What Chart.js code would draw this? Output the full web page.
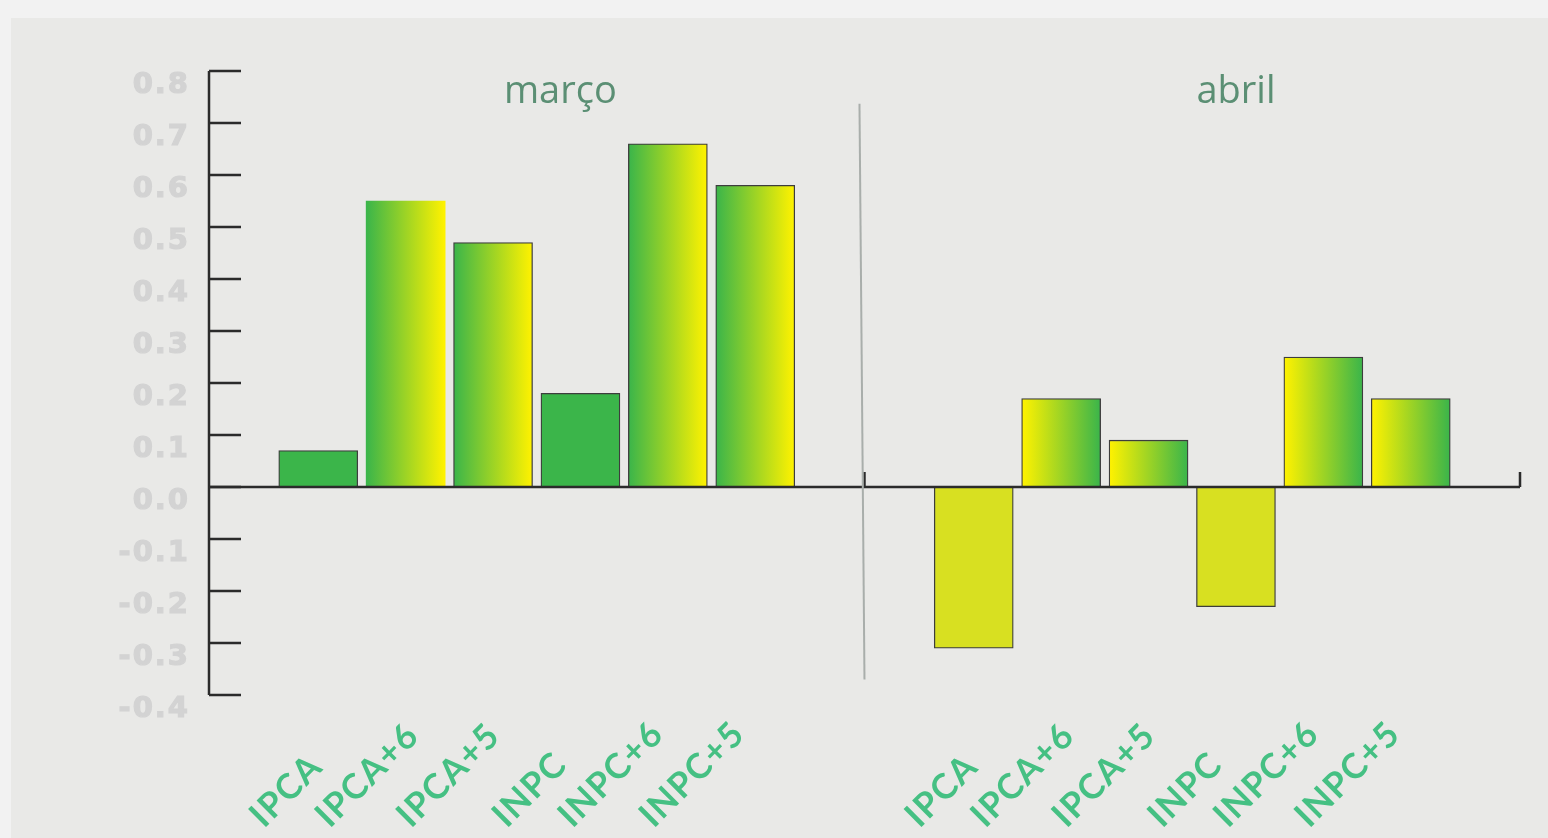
<!DOCTYPE html>
<html>
<head>
<meta charset="utf-8">
<script src="https://cdn.jsdelivr.net/npm/chart.js@4/dist/chart.umd.min.js"></script>
<style>
  html, body { margin: 0; padding: 0; background: #f2f2f2; overflow: hidden; }
  #panel { position: absolute; left: 11px; top: 18px; right: 0; bottom: 0; background: #e9e9e7; }
  #chart { position: absolute; left: 0; top: 0; }
</style>
</head>
<body>
<div id="panel"></div>
<canvas id="chart" width="1548" height="838"></canvas>
<script>
const categories = ['IPCA', 'IPCA+6', 'IPCA+5', 'INPC', 'INPC+6', 'INPC+5'];
const months = ['março', 'abril'];
const marcoValues = [0.07, 0.55, 0.47, 0.18, 0.66, 0.58];
const abrilValues = [-0.31, 0.17, 0.09, -0.23, 0.25, 0.17];
const yTicks = [0.8, 0.7, 0.6, 0.5, 0.4, 0.3, 0.2, 0.1, 0.0, -0.1, -0.2, -0.3, -0.4];

const GREEN = '#3bb54a';
const YELLOW = '#fff200';
const OLIVE = '#d8e021';
const PANEL_WIDTH = 7.5;

// fill kind per bar: solid green, green->yellow, yellow->green, solid olive
const marcoFill = ['green', 'gy', 'gy', 'green', 'gy', 'gy'];
const abrilFill = ['olive', 'yg', 'yg', 'olive', 'yg', 'yg'];

const points = [];
const fills = [];
[marcoValues, abrilValues].forEach((values, panel) => {
  values.forEach((v, i) => {
    points.push({ x: panel * PANEL_WIDTH + i, y: v, label: categories[i], slot: i });
    fills.push((panel === 0 ? marcoFill : abrilFill)[i]);
  });
});

const barFill = context => {
  const chart = context.chart;
  const kind = fills[context.dataIndex];
  if (kind === 'green') return GREEN;
  if (kind === 'olive') return OLIVE;
  if (!chart.chartArea || !context.raw) return GREEN;
  const px = chart.scales.x.getPixelForValue(context.raw.x);
  const g = chart.ctx.createLinearGradient(px - 39, 0, px + 39, 0);
  g.addColorStop(0, kind === 'gy' ? GREEN : YELLOW);
  g.addColorStop(1, kind === 'gy' ? YELLOW : GREEN);
  return g;
};

const decorPlugin = {
  id: 'decor',
  afterDatasetsDraw(chart) {
    const { ctx, scales: { x, y }, chartArea } = chart;
    ctx.save();
    ctx.strokeStyle = '#2b2b2b';
    ctx.lineWidth = 2.5;

    // y axis with ticks pointing right
    const left = chartArea.left;
    ctx.beginPath();
    ctx.moveTo(left, y.getPixelForValue(yTicks[0]));
    ctx.lineTo(left, y.getPixelForValue(yTicks[yTicks.length - 1]));
    yTicks.forEach(t => {
      const py = y.getPixelForValue(t);
      ctx.moveTo(left, py);
      ctx.lineTo(left + 32, py);
    });
    ctx.stroke();

    // zero line with small up ticks
    const zero = y.getPixelForValue(0);
    const mid = x.getPixelForValue(PANEL_WIDTH * 0.8333);
    ctx.beginPath();
    ctx.moveTo(left, zero);
    ctx.lineTo(chartArea.right, zero);
    ctx.moveTo(mid, zero);
    ctx.lineTo(mid, zero - 15);
    ctx.moveTo(chartArea.right, zero);
    ctx.lineTo(chartArea.right, zero - 15);
    ctx.stroke();

    // panel divider
    ctx.strokeStyle = '#a9aeab';
    ctx.lineWidth = 2;
    ctx.beginPath();
    ctx.moveTo(mid - 5, y.getPixelForValue(0.737));
    ctx.lineTo(mid, y.getPixelForValue(-0.37));
    ctx.stroke();

    // y labels, set just below each tick
    ctx.fillStyle = '#d3d3d3';
    ctx.strokeStyle = '#d3d3d3';
    ctx.lineWidth = 1.2;
    ctx.font = 'bold 29px "DejaVu Sans"';
    ctx.letterSpacing = '2px';
    ctx.textAlign = 'right';
    ctx.textBaseline = 'middle';
    yTicks.forEach(t => {
      const py = y.getPixelForValue(t) + 14;
      ctx.fillText(t.toFixed(1), left - 19, py);
      ctx.strokeText(t.toFixed(1), left - 19, py);
    });

    // month titles
    ctx.letterSpacing = '0px';
    ctx.fillStyle = '#5b8f74';
    ctx.font = '38px "Open Sans"';
    ctx.textAlign = 'center';
    ctx.fillText(months[0], x.getPixelForValue(2.77), 92);
    ctx.fillText(months[1], x.getPixelForValue(PANEL_WIDTH + 3.0), 92);

    // category labels, rotated 45deg, bottoms on a common line
    ctx.fillStyle = '#45c083';
    ctx.font = 'bold 35px Lato';
    ctx.letterSpacing = '1.5px';
    ctx.textAlign = 'center';
    ctx.textBaseline = 'middle';
    const base = chartArea.bottom + 126;
    points.forEach(p => {
      const w = ctx.measureText(p.label).width;
      const cx = x.getPixelForValue(p.x) - 32 - 6.2 * p.slot;
      const cy = base - w * 0.3536;
      ctx.save();
      ctx.translate(cx, cy);
      ctx.rotate(-Math.PI / 4);
      ctx.fillText(p.label, 0, 0);
      ctx.restore();
    });
    ctx.restore();
  }
};

new Chart(document.getElementById('chart'), {
  type: 'bar',
  data: {
    datasets: [{
      data: points,
      backgroundColor: barFill,
      borderColor: 'rgba(30,30,30,0.85)',
      borderWidth: fills.map((f, i) => (i === 1 ? 0 : 1.3)),
      borderSkipped: false,
      barThickness: 79
    }]
  },
  options: {
    responsive: false,
    animation: false,
    layout: { padding: { left: 209, top: 71, right: 28, bottom: 0 } },
    plugins: { legend: { display: false }, tooltip: { enabled: false } },
    scales: {
      x: {
        type: 'linear',
        min: -1.25,
        max: 13.75,
        offset: false,
        grid: { display: false },
        border: { display: false },
        ticks: { display: false },
        afterFit: scale => { scale.height = 143; }
      },
      y: {
        display: false,
        min: -0.4,
        max: 0.8
      }
    }
  },
  plugins: [decorPlugin]
});
</script>
</body>
</html>
